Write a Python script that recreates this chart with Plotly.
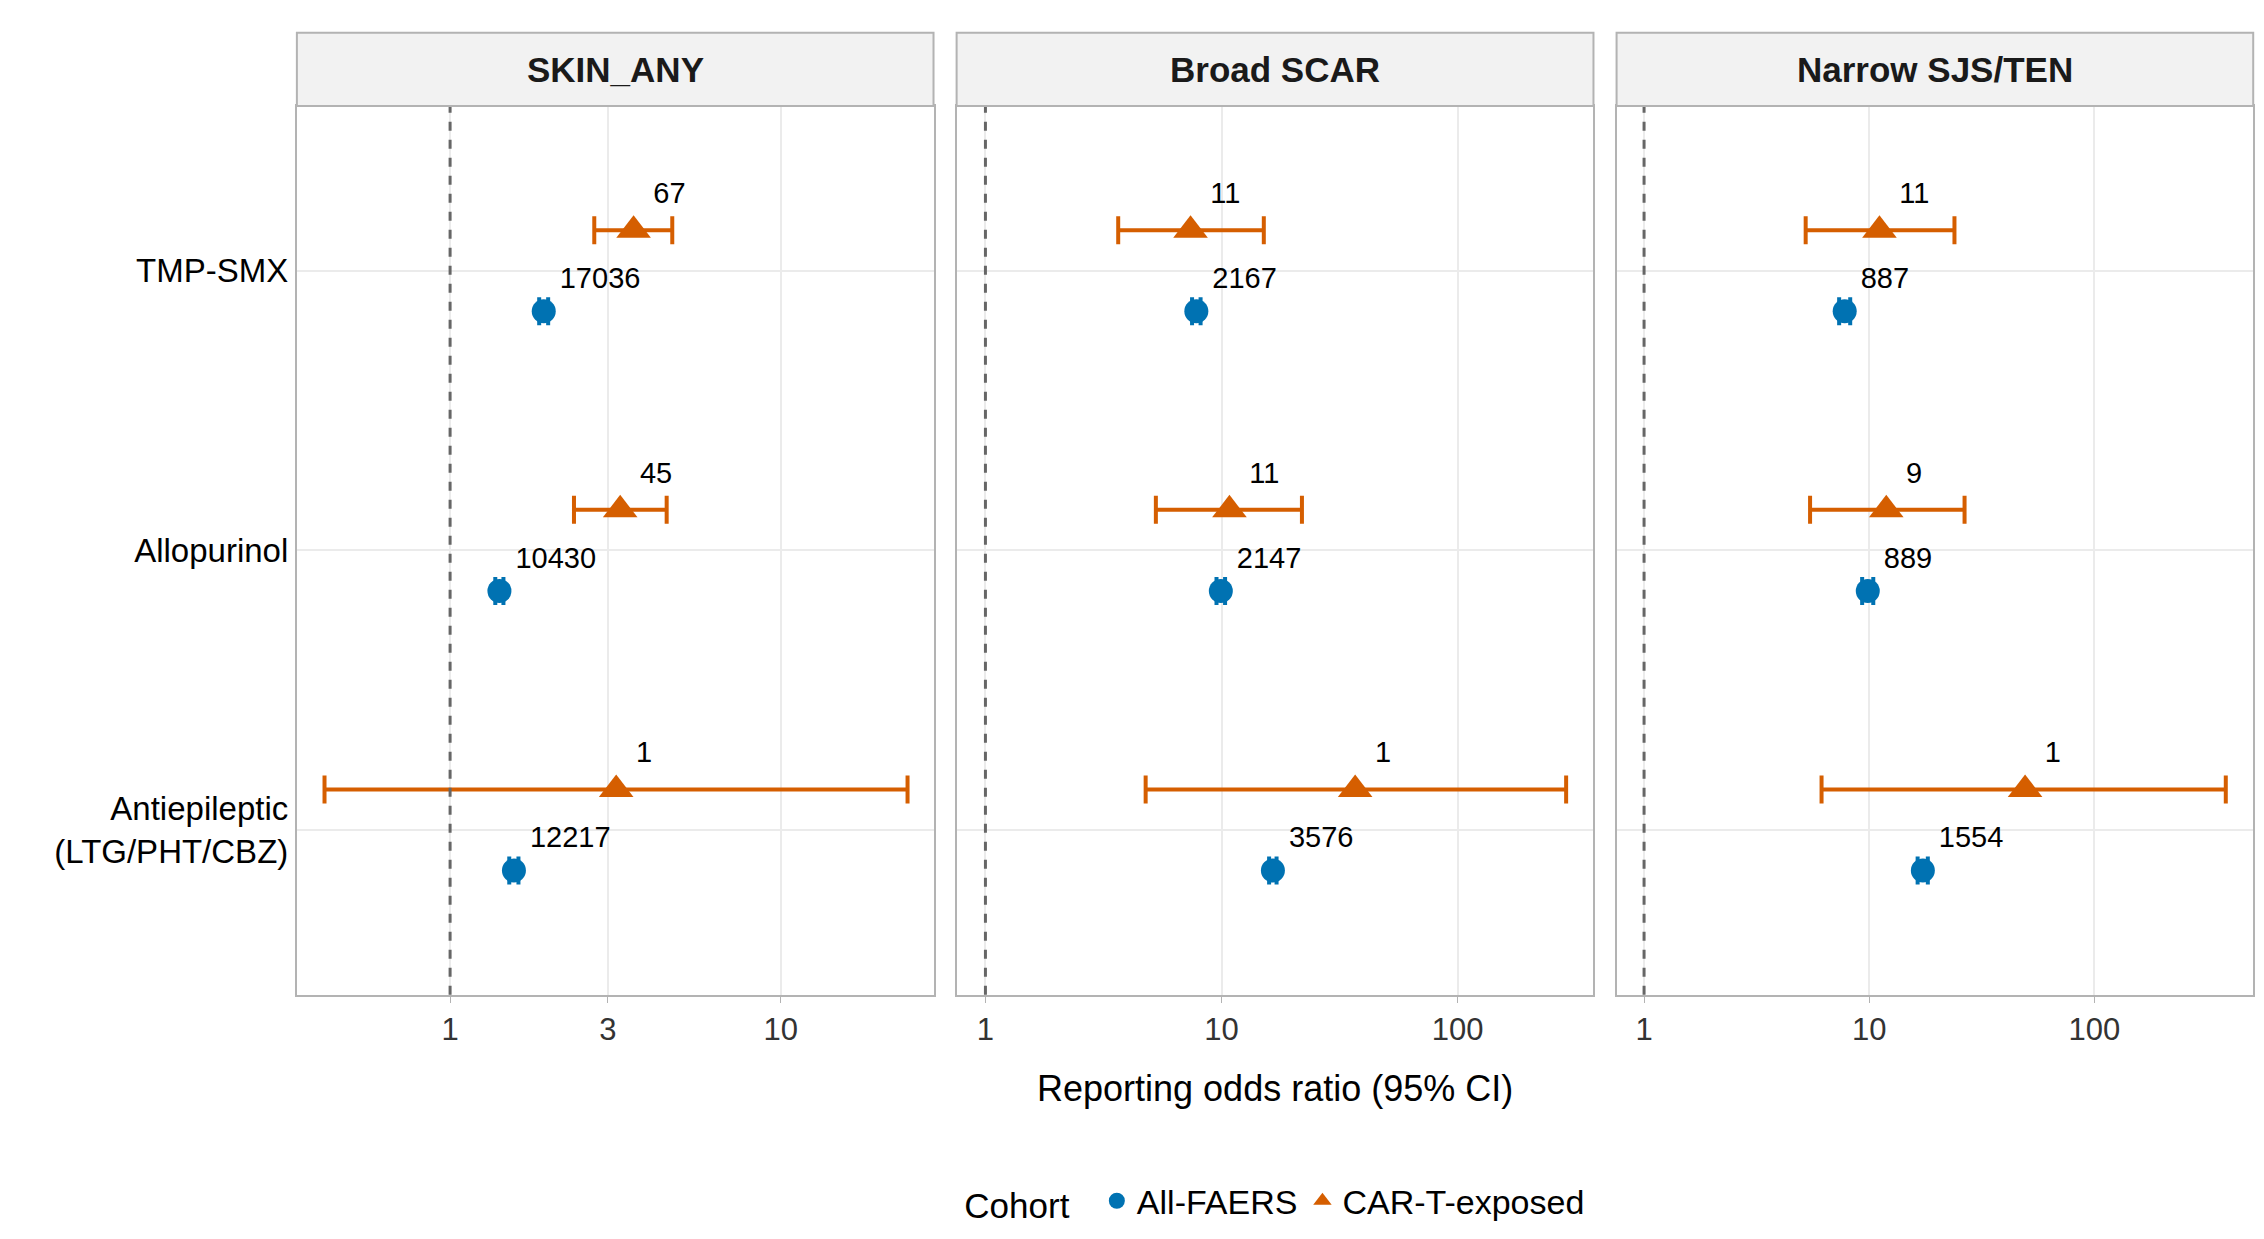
import numpy as np
import plotly.graph_objects as go

panels = ["SKIN_ANY", "Broad SCAR", "Narrow SJS/TEN"]
drugs = ["TMP-SMX", "Allopurinol", "Antiepileptic<br>(LTG/PHT/CBZ)"]
drug_pos = [3, 2, 1]

# CAR-T-exposed: ROR, lower, upper, n  (per panel, per drug)
cart_ror = [[3.59, 3.27, 3.18], [7.39, 10.8, 36.8], [11.1, 11.9, 49.2]]
cart_lo = [[2.73, 2.37, 0.417], [3.65, 5.27, 4.77], [5.22, 5.46, 6.14]]
cart_hi = [[4.70, 4.52, 24.2], [15.1, 21.9, 288], [23.9, 26.5, 383]]
cart_n = [[67, 45, 1], [11, 11, 1], [11, 9, 1]]

# All-FAERS
all_ror = [[1.92, 1.41, 1.56], [7.82, 9.93, 16.5], [7.78, 9.85, 17.3]]
all_lo = [[1.86, 1.37, 1.51], [7.50, 9.52, 15.9], [7.35, 9.30, 16.4]]
all_hi = [[1.98, 1.45, 1.61], [8.15, 10.35, 17.1], [8.23, 10.42, 18.2]]
all_n = [[17036, 10430, 12217], [2167, 2147, 3576], [887, 889, 1554]]

x_ranges = [[np.log10(0.344), np.log10(29)], [np.log10(0.755), np.log10(376)], [np.log10(0.755), np.log10(507)]]
x_ticks = [[1, 3, 10], [1, 10, 100], [1, 10, 100]]

BLUE = "#0072B2"
ORANGE = "#D55E00"
domains = [[0.1276, 0.4088], [0.419, 0.7003], [0.7105, 0.9917]]
ybot, ytop, stop = 0.2035, 0.921, 0.980
off = 0.145

fig = go.Figure()
for i in range(3):
    xa = "x" if i == 0 else f"x{i+1}"
    ya = "y" if i == 0 else f"y{i+1}"
    ror, lo, hi = np.array(all_ror[i]), np.array(all_lo[i]), np.array(all_hi[i])
    fig.add_trace(go.Scatter(
        x=ror, y=np.array(drug_pos) - off, xaxis=xa, yaxis=ya, mode="markers+text",
        marker=dict(symbol="circle", size=24, color=BLUE),
        error_x=dict(type="data", symmetric=False, array=hi - ror, arrayminus=ror - lo,
                     color=BLUE, thickness=4, width=14),
        text=[str(v) for v in all_n[i]], textposition="top right",
        textfont=dict(size=29, color="black", family="Liberation Sans"),
        name="All-FAERS", legendgroup="a", showlegend=(i == 0)))
    ror, lo, hi = np.array(cart_ror[i]), np.array(cart_lo[i]), np.array(cart_hi[i])
    fig.add_trace(go.Scatter(
        x=ror, y=np.array(drug_pos) + off, xaxis=xa, yaxis=ya, mode="markers+text",
        marker=dict(symbol="triangle-up", size=30, color=ORANGE),
        error_x=dict(type="data", symmetric=False, array=hi - ror, arrayminus=ror - lo,
                     color=ORANGE, thickness=4, width=14),
        text=[str(v) for v in cart_n[i]], textposition="top right",
        textfont=dict(size=29, color="black", family="Liberation Sans"),
        name="CAR-T-exposed", legendgroup="c", showlegend=(i == 0)))

    fig.update_layout(**{
        ("xaxis" if i == 0 else f"xaxis{i+1}"): dict(
            type="log", domain=domains[i], range=x_ranges[i], anchor=ya,
            tickvals=x_ticks[i], ticktext=[str(t) for t in x_ticks[i]],
            showgrid=True, gridcolor="#ebebeb", gridwidth=2, zeroline=False,
            showline=True, mirror=True, linecolor="#b3b3b3", linewidth=2,
            ticks="outside", ticklen=6, tickcolor="#b3b3b3",
            tickfont=dict(size=31, color="#333333")),
        ("yaxis" if i == 0 else f"yaxis{i+1}"): dict(
            domain=[ybot, ytop], range=[0.41, 3.59], anchor=xa,
            tickvals=drug_pos, ticktext=drugs if i == 0 else ["", "", ""],
            showticklabels=(i == 0),
            showgrid=True, gridcolor="#ebebeb", gridwidth=2, zeroline=False,
            showline=True, mirror=True, linecolor="#b3b3b3", linewidth=2,
            tickfont=dict(size=33, color="black")),
    })
    # reference line at 1
    fig.add_shape(type="line", xref=xa, yref=f"{ya} domain", x0=1, x1=1, y0=0, y1=1,
                  line=dict(color="#666666", width=3, dash="dash"))
    # strip
    fig.add_shape(type="rect", xref="paper", yref="paper", x0=domains[i][0], x1=domains[i][1],
                  y0=ytop, y1=stop, fillcolor="#f2f2f2", line=dict(color="#b3b3b3", width=2))
    fig.add_annotation(x=sum(domains[i]) / 2, y=(ytop + stop) / 2, xref="paper", yref="paper",
                       xanchor="center", yanchor="middle",
                       text=f"<b>{panels[i]}</b>", showarrow=False,
                       font=dict(size=35, color="#1a1a1a"))

fig.add_annotation(x=sum(domains[1]) / 2, y=0.128, xref="paper", yref="paper",
                   xanchor="center", yanchor="middle",
                   text="Reporting odds ratio (95% CI)", showarrow=False,
                   font=dict(size=36, color="black"))

fig.update_layout(
    width=2264, height=1239, margin=dict(l=0, r=0, t=0, b=0),
    plot_bgcolor="white", paper_bgcolor="white",
    font=dict(family="Liberation Sans", color="black"),
    legend=dict(orientation="h", x=0.56, xanchor="center", y=0.037, yanchor="middle",
                title=dict(text="Cohort  ", font=dict(size=35)), font=dict(size=34)),
)

fig.write_html("out.html")
